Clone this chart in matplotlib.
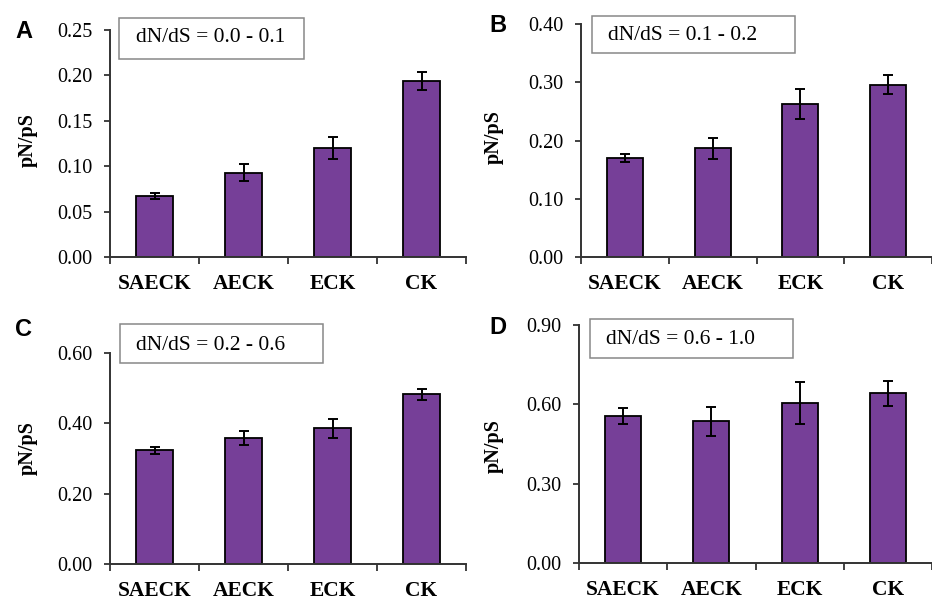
import matplotlib
matplotlib.use("Agg")
import matplotlib.pyplot as plt
from matplotlib.patches import Rectangle
import numpy as np

categories = ["SAECK", "AECK", "ECK", "CK"]

vals_A = [0.067, 0.093, 0.120, 0.194]
err_A = [0.003, 0.009, 0.012, 0.010]
vals_B = [0.170, 0.187, 0.263, 0.296]
err_B = [0.007, 0.018, 0.026, 0.017]
vals_C = [0.324, 0.358, 0.386, 0.482]
err_C = [0.010, 0.020, 0.027, 0.017]
vals_D = [0.556, 0.536, 0.605, 0.642]
err_D = [0.029, 0.054, 0.080, 0.047]

ticks_A = [0.00, 0.05, 0.10, 0.15, 0.20, 0.25]
ticks_B = [0.00, 0.10, 0.20, 0.30, 0.40]
ticks_C = [0.00, 0.20, 0.40, 0.60]
ticks_D = [0.00, 0.30, 0.60, 0.90]

labels = ["dN/dS = 0.0 - 0.1", "dN/dS = 0.1 - 0.2", "dN/dS = 0.2 - 0.6", "dN/dS = 0.6 - 1.0"]
letters = ["A", "B", "C", "D"]

serif = "Liberation Serif"
bar_color = "#763f98"

W, H = 932.0, 600.0
fig = plt.figure(figsize=(9.32, 6.0), dpi=100)

def fx(px):
    return px / W

def fy(py):
    return 1 - py / H

# axes boxes in pixels: left, right, top, bottom
ax_px = [
    (110, 466, 30, 257),
    (581, 932, 24, 257),
    (110, 466, 353, 564),
    (579, 932, 325, 563),
]
# label boxes in pixels: left, right, top, bottom ; text left x, center y
box_px = [
    (119, 304, 18, 59, 136, 38),
    (592, 795, 16, 53, 608, 36),
    (120, 323, 324, 363, 136, 346),
    (590, 793, 319, 358, 606, 340),
]
ylabel_coords = [(-0.202, 0.515), (-0.219, 0.515), (-0.202, 0.55), (-0.212, 0.49)]
letter_px = [(15, 31), (489, 26), (15, 330), (489, 327)]

data = [(vals_A, err_A, ticks_A), (vals_B, err_B, ticks_B),
        (vals_C, err_C, ticks_C), (vals_D, err_D, ticks_D)]

for i, (vals, errs, ticks) in enumerate(data):
    l, r, t, b = ax_px[i]
    ax = fig.add_axes([fx(l), fy(b), (r - l) / W, (b - t) / H])
    x = np.arange(len(categories))
    ax.bar(x, vals, width=0.41, color=bar_color, edgecolor="black", linewidth=1.3, zorder=2)
    ax.errorbar(x, vals, yerr=errs, fmt="none", ecolor="black", elinewidth=1.4,
                capsize=3.3, capthick=1.4, zorder=3)
    ax.set_xlim(-0.5, len(categories) - 0.5)
    ax.set_ylim(ticks[0], ticks[-1])
    ax.set_yticks(ticks)
    ax.set_yticklabels([f"{t:.2f}" for t in ticks], fontfamily=serif, fontsize=14.5)
    ax.set_xticks(x)
    ax.set_xticklabels(categories, fontfamily=serif, fontsize=15.5, fontweight="bold")
    ax.set_xticks(np.arange(len(categories) + 1) - 0.5, minor=True)
    ax.tick_params(axis="x", which="major", length=0, pad=12)
    ax.tick_params(axis="x", which="minor", length=5, width=1.3, direction="out", color="#333333")
    ax.tick_params(axis="y", length=4.5, width=1.3, direction="out", color="#333333", pad=8)
    for s in ["top", "right"]:
        ax.spines[s].set_visible(False)
    for s in ["left", "bottom"]:
        ax.spines[s].set_linewidth(1.4)
        ax.spines[s].set_color("#333333")
    ax.set_ylabel("pN/pS", fontfamily=serif, fontsize=14.5, fontweight="bold")
    ax.yaxis.set_label_coords(*ylabel_coords[i])

    bl, br, bt, bb, tx, ty = box_px[i]
    fig.add_artist(Rectangle((fx(bl), fy(bb)), (br - bl) / W, (bb - bt) / H,
                             transform=fig.transFigure, facecolor="white",
                             edgecolor="#888888", linewidth=1.1, zorder=5))
    fig.text(fx(tx), fy(ty), labels[i], fontfamily=serif, fontsize=15.5,
             va="center", ha="left", zorder=6)
    fig.text(fx(letter_px[i][0]), fy(letter_px[i][1]), letters[i], fontfamily="Liberation Sans",
             fontsize=17, fontweight="bold", va="center", ha="left")

fig.savefig("out.png", dpi=100)
